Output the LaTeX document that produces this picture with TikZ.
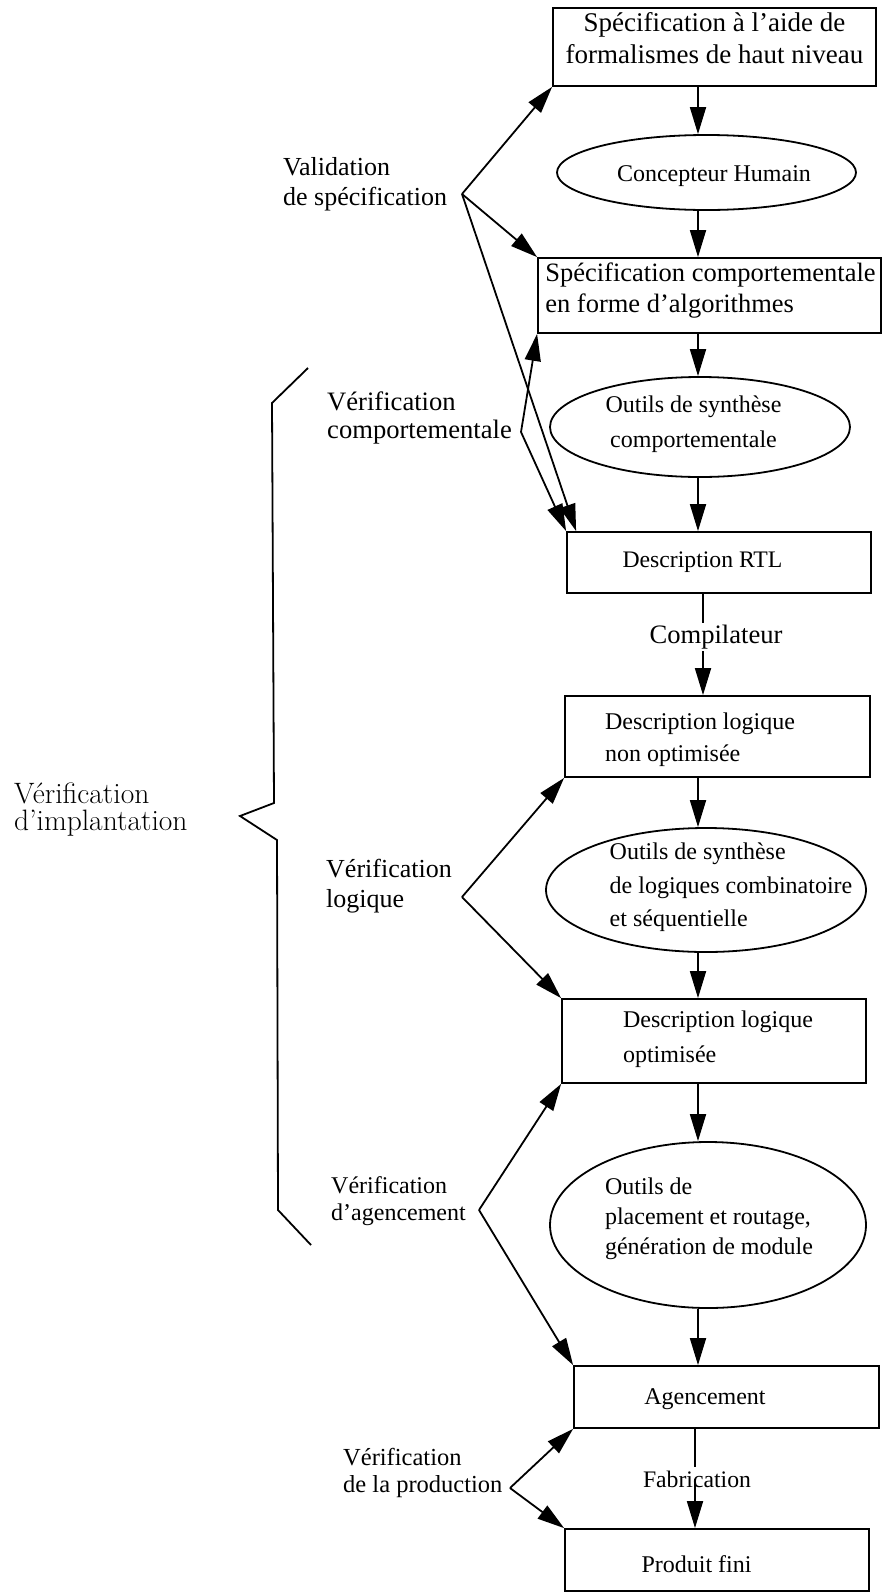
\documentclass[tikz,border=0pt]{standalone}
\usepackage{fontspec}
\setmainfont{Liberation Serif}
\newfontfamily\lmfont{Latin Modern Roman}
\usetikzlibrary{arrows.meta,shapes.geometric}

% font size / baseline skip in pt
\newcommand{\fs}[2]{\fontsize{#1pt}{#2pt}\selectfont}
% text block inside a shape that keeps the shape's own size;
% #1 = twice the shift to the right, #2 = shift downwards, #3 = column alignment
\newcommand{\shapetext}[4]{\makebox[0pt]{\hspace*{#1pt}\smash{\raisebox{-#2pt}{\begin{tabular}{@{}#3@{}}#4\end{tabular}}}}}

\tikzset{
  box/.style={draw, line width=1.8pt, rectangle, inner sep=0pt},
  oval/.style={draw, line width=1.8pt, ellipse, inner sep=0pt},
  arr/.style={line width=1.8pt, -{Triangle[length=27pt,width=16pt]}},
  link/.style={line width=1.8pt, line join=miter},
  lbl/.style={inner sep=0pt, anchor=base west},
}

\begin{document}
\begin{tikzpicture}[x=1pt,y=-1pt]
\fill[white] (0,0) rectangle (888,1593);
\useasboundingbox (0,0) rectangle (888,1593);

% ---- design flow ----
\node[box, minimum width=323pt, minimum height=78pt] (b1) at (714.5,47)
  {\fs{27}{32}\shapetext{0}{0}{c}{Spécification à l’aide de\\formalismes de haut niveau}};
\node[oval, minimum width=299pt, minimum height=75pt] (e1) at (706.5,172.5)
  {\fs{24}{28}\shapetext{15}{10}{c}{Concepteur Humain}};
\node[box, minimum width=343pt, minimum height=75pt] (b2) at (709.5,295.5)
  {\fs{26.5}{31}\shapetext{2}{2}{l}{Spécification comportementale\\en forme d’algorithmes}};
\node[oval, minimum width=300pt, minimum height=100pt] (e2) at (700,427)
  {\fs{24}{35}\shapetext{-13}{2}{c}{Outils de synthèse\\comportementale}};
\node[box, minimum width=304pt, minimum height=61pt] (b3) at (719,562.5)
  {\fs{23.7}{28}\shapetext{-33}{6}{l}{Description RTL}};
\node[box, minimum width=305pt, minimum height=81pt] (b4) at (717.5,736.5)
  {\fs{24}{32}\shapetext{-35}{9}{l}{Description logique\\non optimisée}};
\node[oval, minimum width=320pt, minimum height=124pt] (e3) at (706,890)
  {\fs{24}{33.5}\shapetext{50}{3}{l}{Outils de synthèse\\de logiques combinatoire\\et séquentielle}};
\node[box, minimum width=304pt, minimum height=84pt] (b5) at (714,1041)
  {\fs{24}{35}\shapetext{8}{3.5}{l}{Description logique\\optimisée}};
\node[oval, minimum width=316pt, minimum height=166pt] (e4) at (708,1225)
  {\fs{24}{30}\shapetext{2}{0}{l}{Outils de\\placement et routage,\\génération de module}};
\node[box, minimum width=305pt, minimum height=62pt] (b6) at (726.5,1397)
  {\fs{24}{28}\shapetext{-43}{8}{l}{Agencement}};
\node[box, minimum width=304pt, minimum height=62pt] (b7) at (717,1560)
  {\fs{24}{28}\shapetext{-41}{13}{l}{Produit fini}};

% axes of the vertical arrows
\coordinate (ax) at (698,0);
\coordinate (cx) at (703,0);
\coordinate (fx) at (695,0);

\draw[arr] (b1.south -| ax) -- (e1.north -| ax);
\draw[arr] (e1.south -| ax) -- (b2.north -| ax);
\draw[arr] (b2.south -| ax) -- (e2.north -| ax);
\draw[arr] (e2.south -| ax) -- (b3.north -| ax);
\draw[arr] (b3.south -| cx) -- (b4.north -| cx);
\node[fill=white, inner sep=2pt, anchor=base] (comp) at (716,643) {\fs{26.6}{30}Compilateur};
\draw[arr] (b4.south -| ax) -- (e3.north -| ax);
\draw[arr] (e3.south -| ax) -- (b5.north -| ax);
\draw[arr] (b5.south -| ax) -- (e4.north -| ax);
\draw[arr] (e4.south -| ax) -- (b6.north -| ax);
\node[anchor=base] (fab) at (697,1487) {\fs{23.7}{28}Fabrication};
\draw[link] (b6.south -| fx) -- (fab.north -| fx);
\draw[arr] (fab.center -| fx) -- (b7.north -| fx);

% ---- verification labels ----
\node[lbl] (lv) at (283,175) {\fs{26}{30}\begin{tabular}[t]{@{}l@{}}Validation\\de spécification\end{tabular}};
\node[lbl] (lc) at (327,410) {\fs{26.6}{28}\begin{tabular}[t]{@{}l@{}}Vérification\\comportementale\end{tabular}};
\node[lbl] (ll) at (326,877) {\fs{26}{30}\begin{tabular}[t]{@{}l@{}}Vérification\\logique\end{tabular}};
\node[lbl] (la) at (331,1193) {\fs{24}{27}\begin{tabular}[t]{@{}l@{}}Vérification\\d’agencement\end{tabular}};
\node[lbl] (lp) at (343,1465) {\fs{24.5}{27}\begin{tabular}[t]{@{}l@{}}Vérification\\de la production\end{tabular}};
\node[lbl] (li) at (14,803) {\lmfont\fs{29.5}{30}\begin{tabular}[t]{@{}l@{}}Vérification\\[-3pt]d’implantation\end{tabular}};

% branching points of the verification arrows
\coordinate (vs) at (462,194);
\coordinate (vc) at (521,432);
\coordinate (vl) at (462,897);
\coordinate (va) at (479,1210);
\coordinate (vp) at (510,1488);

\draw[arr] (vs) -- (b1.south west);
\draw[arr] (vs) -- (b2.north west);
\draw[arr] (vs) -- ([xshift=10pt]b3.north west);
\draw[arr] (vc) -- (b2.south west);
\draw[arr] (vc) -- (b3.north west);
\draw[arr] (vl) -- (b4.south west);
\draw[arr] (vl) -- (b5.north west);
\draw[arr] (va) -- (b5.south west);
\draw[arr] (va) -- (b6.north west);
\draw[arr] (vp) -- (b6.south west);
\draw[arr] (vp) -- (b7.north west);

% brace grouping the implementation checks
\draw[link] (308,368) -- (272,403) -- (274,803) -- (240,816) -- (277,840) -- (278,1210) -- (311,1245);
\end{tikzpicture}
\end{document}
